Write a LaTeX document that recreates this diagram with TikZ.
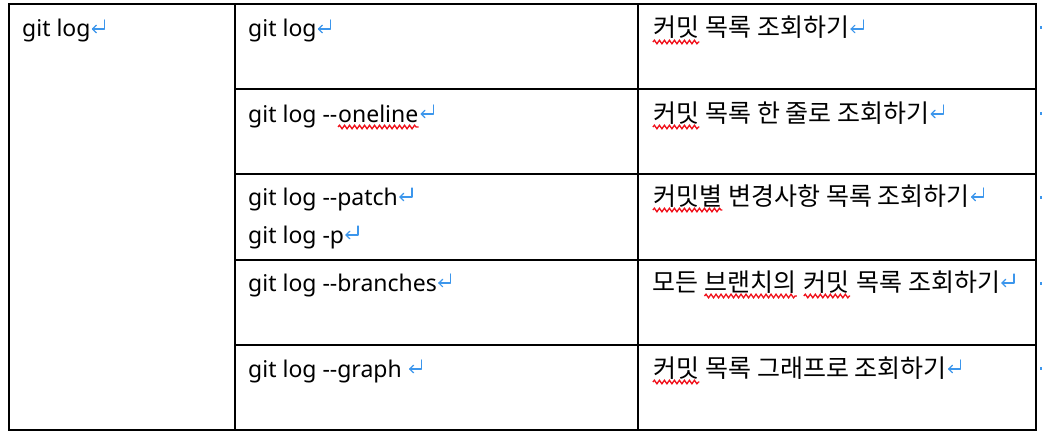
\documentclass[tikz,border=0pt]{standalone}
\usepackage{fontspec}
\setmainfont{Noto Sans}
\newfontfamily\krfont{Noto Sans CJK KR}
\usetikzlibrary{decorations.pathmorphing}
\definecolor{pmblue}{HTML}{3C96EC}
\definecolor{wavred}{HTML}{F0101A}
\tikzset{
  gridline/.style={line width=2pt, line cap=rect},
  cell/.style={anchor=base west, inner sep=0pt, font=\fontsize{23}{28}\selectfont},
  krcell/.style={anchor=base west, inner sep=0pt, font=\fontsize{25}{30}\selectfont\krfont},
  wavy/.style={draw=wavred, line width=1.3pt, decorate, decoration={snake, amplitude=1.8pt, segment length=5pt}},
  marklines/.style={draw=pmblue, line width=1.2pt, line cap=round, line join=round},
  edgemark/.style={fill=pmblue},
}
\newcommand\parmark{\tikz[baseline=0pt, x=1pt, y=1pt]{\path (0,0) -- (15,0); \draw[marklines] (14,17) -- (14,8) -- (2,8); \draw[marklines] (5.8,11.8) -- (2,8) -- (5.8,4.2);}}
\newcommand\wavyword[1]{\tikz[baseline=(ww.base)]{\node[inner sep=0pt] (ww) {#1}; \draw[wavy] ([yshift=-5pt]ww.base west) -- ([yshift=-5pt]ww.base east);}}
\begin{document}
\begin{tikzpicture}[x=1pt,y=-1pt]
\useasboundingbox (0,0) rectangle (1048,436);
\fill[white] (0,0) rectangle (1048,436);
% grid
\coordinate (tl) at (9,4);
\coordinate (br) at (1036,430);
\draw[gridline] (tl) rectangle (br);
\draw[gridline] (235,4) -- (235,430);
\draw[gridline] (638,4) -- (638,430);
\foreach \yy in {89,174,260,345}{\draw[gridline] (235,\yy) -- (1036,\yy);}
% first column
\node[cell] (c0) at (22,37) {git log\parmark};
% second column
\node[cell] (a1) at (248,37) {git log\parmark};
\node[cell] (a2) at (248,122) {git log -{}-\wavyword{oneline}\parmark};
\node[cell] (a3) at (248,205) {git log -{}-patch\parmark};
\node[cell] (a3b) at (248,243) {git log -p\parmark};
\node[cell] (a4) at (248,291) {git log -{}-branches\parmark};
\node[cell] (a5) at (248,377) {git log -{}-graph \parmark};
% third column
\node[krcell] (b1) at (652,37) {\wavyword{커밋} 목록 조회하기\parmark};
\node[krcell] (b2) at (652,122) {\wavyword{커밋} 목록 한 줄로 조회하기\parmark};
\node[krcell] (b3) at (652,205) {\wavyword{커밋별} 변경사항 목록 조회하기\parmark};
\node[krcell] (b4) at (652,291) {모든 \wavyword{브랜치의} \wavyword{커밋} 목록 조회하기\parmark};
\node[krcell] (b5) at (652,377) {\wavyword{커밋} 목록 그래프로 조회하기\parmark};
% end-of-row marks (cut off)
\foreach \yy in {28,113,197,283,368}{\fill[edgemark] (1040,\yy-1.5) rectangle (1042,\yy+1.5);}
\end{tikzpicture}
\end{document}
